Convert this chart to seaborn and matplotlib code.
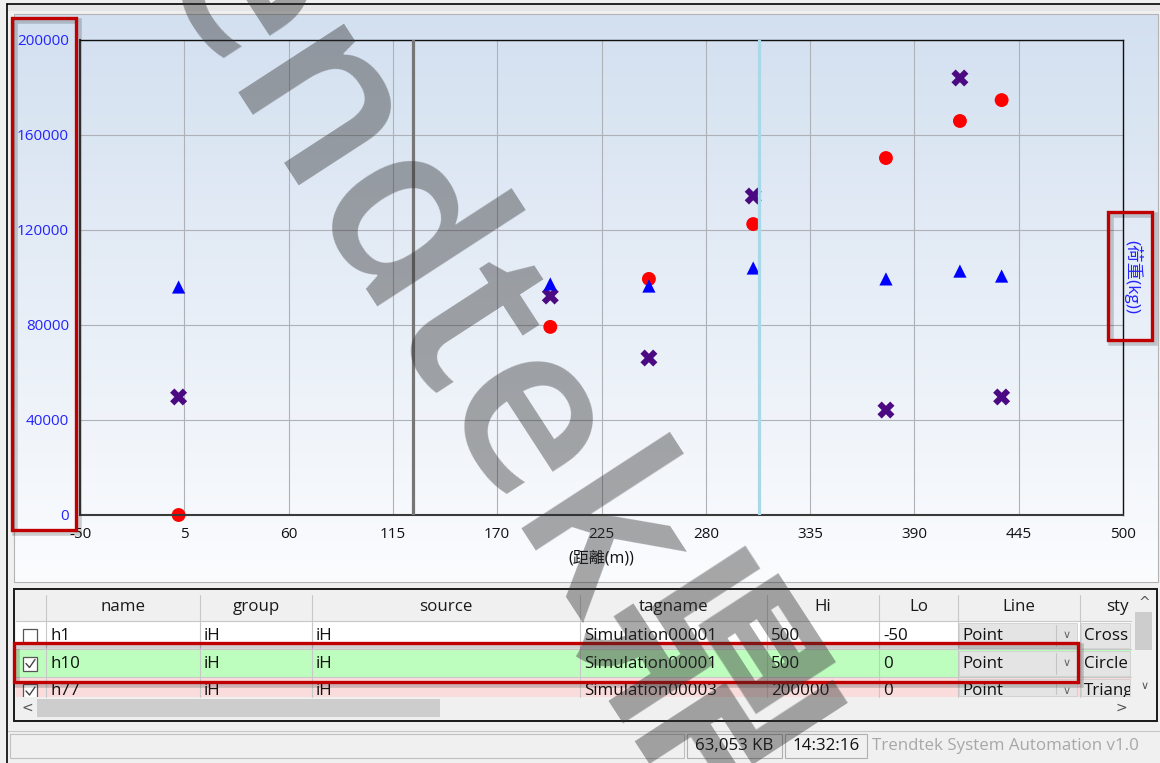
import numpy as np
import pandas as pd
import matplotlib
matplotlib.use("Agg")
import matplotlib.pyplot as plt
import seaborn as sns
from matplotlib.patches import Rectangle

# ---- data ----
dist_cross = [2, 198, 250, 305, 375, 414, 436]
load_cross = [49700, 92200, 66100, 134300, 44200, 184000, 49700]
dist_circle = [2, 198, 250, 305, 375, 414, 436]
load_circle = [0, 79200, 99400, 122500, 150300, 165900, 174700]
dist_tri = [2, 198, 250, 305, 375, 414, 436]
load_tri = [96000, 97300, 96400, 104000, 99400, 102700, 100600]
marker_lines = [125.6, 308]          # gray / light blue cursors
x_ticks = list(range(-50, 501, 55))
y_ticks = list(range(0, 200001, 40000))

headers = ["name", "group", "source", "tagname", "Hi", "Lo", "Line", "style"]
rows = [["h1", "iH", "iH", "Simulation00001", "500", "-50", "Point", "Cross"],
        ["h10", "iH", "iH", "Simulation00001", "500", "0", "Point", "Circle"],
        ["h77", "iH", "iH", "Simulation00003", "200000", "0", "Point", "Triangle"]]
checked = [False, True, True]
status_items = ["63,053 KB", "14:32:16"]
app_name = "Trendtek System Automation v1.0"

df = pd.DataFrame({
    "dist": dist_cross + dist_circle + dist_tri,
    "load": load_cross + load_circle + load_tri,
    "series": ["Cross"] * len(dist_cross) + ["Circle"] * len(dist_circle) + ["Triangle"] * len(dist_tri),
})

sns.set_style("white")
plt.rcParams["font.family"] = ["Open Sans", "Noto Sans CJK TC", "DejaVu Sans"]

W, H = 1160, 763
fig = plt.figure(figsize=(W / 100, H / 100), dpi=100)
fig.patch.set_facecolor("#f0f0f0")

# background layer in pixel coordinates (window chrome, table, status bar)
bg = fig.add_axes([0, 0, 1, 1], zorder=0)
bg.set_xlim(0, W)
bg.set_ylim(H, 0)
bg.axis("off")

bg.plot([7, W], [4, 4], color="black", lw=1.2)
bg.plot([7, 7], [4, H], color="black", lw=1.2)
bg.add_patch(Rectangle((8, 5), W, 6, color="#e6e6e6", lw=0))

# chart panel gradient
top_c = np.array([211, 224, 240]) / 255
bot_c = np.array([251, 252, 254]) / 255
t = np.linspace(0, 1, 256)[:, None, None]
grad = top_c * (1 - t) + bot_c * t
grad = np.repeat(grad, 2, axis=1)
bg.imshow(grad, extent=[14, 1158, 582, 14], aspect="auto", zorder=0, interpolation="bilinear")
bg.add_patch(Rectangle((14, 14), 1144, 568, fill=False, ec="#b4b4b4", lw=0.8, zorder=1))

# table
col_edges = [16, 46, 200, 312, 580, 767, 879, 958, 1080, 1131]
row_edges = [593, 621, 649, 677, 697]
row_colors = ["white", "#bdfdbd", "#fbdcdc"]
FS = 12.2
bg.add_patch(Rectangle((14, 589), 1143, 132, fc="#f0f0f0", ec="#1a1a1a", lw=1.4, zorder=1))
for i, col in enumerate(row_colors):
    bg.add_patch(Rectangle((16, row_edges[i + 1]), 1115, row_edges[i + 2] - row_edges[i + 1],
                           fc=col, ec="none", zorder=1))
for x in col_edges[1:-1]:
    bg.plot([x, x], [595, 697], color="#c8c8c8", lw=0.8, zorder=2)
for y in row_edges[1:4]:
    bg.plot([16, 1131], [y, y], color="#c8c8c8", lw=0.8, zorder=2)


def cell_clip(x0, x1):
    return Rectangle((x0, 593), x1 - x0, 104, transform=bg.transData)


for j, h in enumerate(headers):
    xc = (col_edges[j + 1] + col_edges[j + 2]) / 2 if j < 7 else 1124
    txt = bg.text(xc, 607, h, ha="center", va="center", fontsize=FS, color="#1a1a1a",
                  zorder=3, clip_on=True)
    txt.set_clip_path(cell_clip(col_edges[j + 1], col_edges[j + 2] - 1))
for i, r in enumerate(rows):
    yc = (row_edges[i + 1] + row_edges[i + 2]) / 2 + 0.5
    if i == 2:
        yc = 691
    # checkbox
    cb = Rectangle((23, yc - 7), 14, 14, fc="white", ec="#555555", lw=0.9, zorder=3)
    bg.add_patch(cb)
    cb.set_clip_path(cell_clip(16, 46))
    if checked[i]:
        bg.plot([26, 29.5, 35], [yc, yc + 4, yc - 4], color="#444444", lw=1.0, zorder=4)
    for j, val in enumerate(r):
        x0 = col_edges[j + 1]
        if j >= 6:
            x1 = col_edges[j + 2] - (2 if j == 6 else 0)
            p = Rectangle((x0 + 1, row_edges[i + 1] + 2), x1 - x0 - 2,
                          row_edges[i + 2] - row_edges[i + 1] - 3,
                          fc="#e4e4e4", ec="#cfcfcf", lw=0.6, zorder=2)
            bg.add_patch(p)
            p.set_clip_path(cell_clip(16, 1131))
            if j == 6:
                bg.plot([1056, 1056], [row_edges[i + 1] + 4, min(row_edges[i + 2] - 3, 697)],
                        color="#c4c4c4", lw=0.8, zorder=3)
                d = bg.text(1067, yc, "\u2228", ha="center", va="center", fontsize=8, color="#666666",
                            family=["DejaVu Sans"], zorder=3, clip_on=True)
                d.set_clip_path(cell_clip(16, 1131))
        txt = bg.text(x0 + 4, yc, val, ha="left", va="center", fontsize=FS, color="#111111",
                      zorder=3, clip_on=True)
        txt.set_clip_path(cell_clip(x0, col_edges[j + 2] - 1))
# scrollbars
bg.add_patch(Rectangle((16, 698), 1117, 20, fc="#f0f0f0", ec="none", zorder=2))
bg.add_patch(Rectangle((37, 699), 403, 18, fc="#cdcdcd", ec="none", zorder=3))
bg.text(27, 708, "<", ha="center", va="center", fontsize=10, color="#555555", family=["DejaVu Sans"], zorder=3)
bg.text(1121, 708, ">", ha="center", va="center", fontsize=10, color="#555555", family=["DejaVu Sans"], zorder=3)
bg.add_patch(Rectangle((1132, 593), 22, 104, fc="#f0f0f0", ec="none", zorder=2))
bg.add_patch(Rectangle((1135, 612), 17, 38, fc="#cdcdcd", ec="none", zorder=3))
bg.text(1144, 603, "^", ha="center", va="center", fontsize=10, color="#555555", family=["DejaVu Sans"], zorder=3)
bg.text(1145, 686, "\u2228", ha="center", va="center", fontsize=8, color="#555555", family=["DejaVu Sans"], zorder=3)

# status bar
bg.plot([8, W], [731, 731], color="#c8c8c8", lw=0.8)
bg.add_patch(Rectangle((10, 734), 674, 24, fill=False, ec="#c0c0c0", lw=0.8))
bg.add_patch(Rectangle((687, 734), 95, 24, fill=False, ec="#b0b0b0", lw=0.8))
bg.add_patch(Rectangle((785, 734), 82, 24, fill=False, ec="#b0b0b0", lw=0.8))
bg.text(734, 746, status_items[0], ha="center", va="center", fontsize=FS, color="#111111")
bg.text(826, 746, status_items[1], ha="center", va="center", fontsize=FS, color="#111111")
bg.text(872, 746, app_name, ha="left", va="center", fontsize=FS, color="#a8a8a8")

# ---- the chart itself ----
ax = fig.add_axes([80 / W, 1 - 515 / H, 1043 / W, 475 / H], zorder=1)
ax.patch.set_alpha(0)
sns.scatterplot(data=df, x="dist", y="load", hue="series", style="series", size="series",
                palette={"Cross": "#4b0a82", "Circle": "#ff0000", "Triangle": "#0000ff"},
                markers={"Cross": "X", "Circle": "o", "Triangle": "^"},
                sizes={"Cross": 150, "Circle": 100, "Triangle": 90},
                linewidth=0, legend=False, ax=ax, zorder=2)
for coll in ax.collections:
    coll.set_clip_on(False)
ax.axvline(marker_lines[0], color="#767676", lw=2.3, zorder=3)
ax.axvline(marker_lines[1], color="#a9d9e8", lw=2.3, zorder=3)

ax.set_xlim(-50, 500)
ax.set_ylim(0, 200000)
ax.set_xticks(x_ticks)
ax.set_yticks(y_ticks)
ax.set_xticklabels([str(v) for v in x_ticks])
ax.set_yticklabels([str(v) for v in y_ticks])
ax.grid(True, color="#aeb1b8", lw=0.8)
ax.set_axisbelow(True)
ax.tick_params(axis="both", direction="out", length=5, width=1, labelsize=11, pad=4, color="#333333")
ax.tick_params(axis="y", labelcolor="#2424ff", pad=3)
ax.tick_params(axis="x", labelcolor="#111111")
for s in ["left", "bottom"]:
    ax.spines[s].set_color("#3a3a3a")
    ax.spines[s].set_linewidth(1.5)
for s in ["top", "right"]:
    ax.spines[s].set_color("#111111")
    ax.spines[s].set_linewidth(1.0)
ax.set_xlabel("(距離(m))", fontsize=11.5, color="#111111", labelpad=6)
ax.set_ylabel("")
ax.text(1.0095, 0.5, "(荷重(kg))", transform=ax.transAxes, rotation=270, ha="center", va="center",
        color="#2424ff", fontsize=12.5)

# ---- overlay: highlight boxes and watermark ----
top = fig.add_axes([0, 0, 1, 1], zorder=5)
top.set_xlim(0, W)
top.set_ylim(H, 0)
top.axis("off")
for (x, y, w, h) in [(12, 18, 64, 512), (1108, 212, 44, 128), (14, 643, 1064, 39)]:
    top.add_patch(Rectangle((x + 3, y + 3), w, h, fill=False, ec="black", lw=4, alpha=0.18))
    top.add_patch(Rectangle((x, y), w, h, fill=False, ec="#c00000", lw=2.4))

top.text(35, -215, "Trendtek鼎", rotation=-57, rotation_mode="anchor", ha="left", va="baseline",
         fontsize=168, fontweight="semibold", color="#303030", alpha=0.42,
         family=["Open Sans", "Noto Sans CJK TC"])

fig.savefig("out.png", dpi=100, facecolor=fig.get_facecolor())
